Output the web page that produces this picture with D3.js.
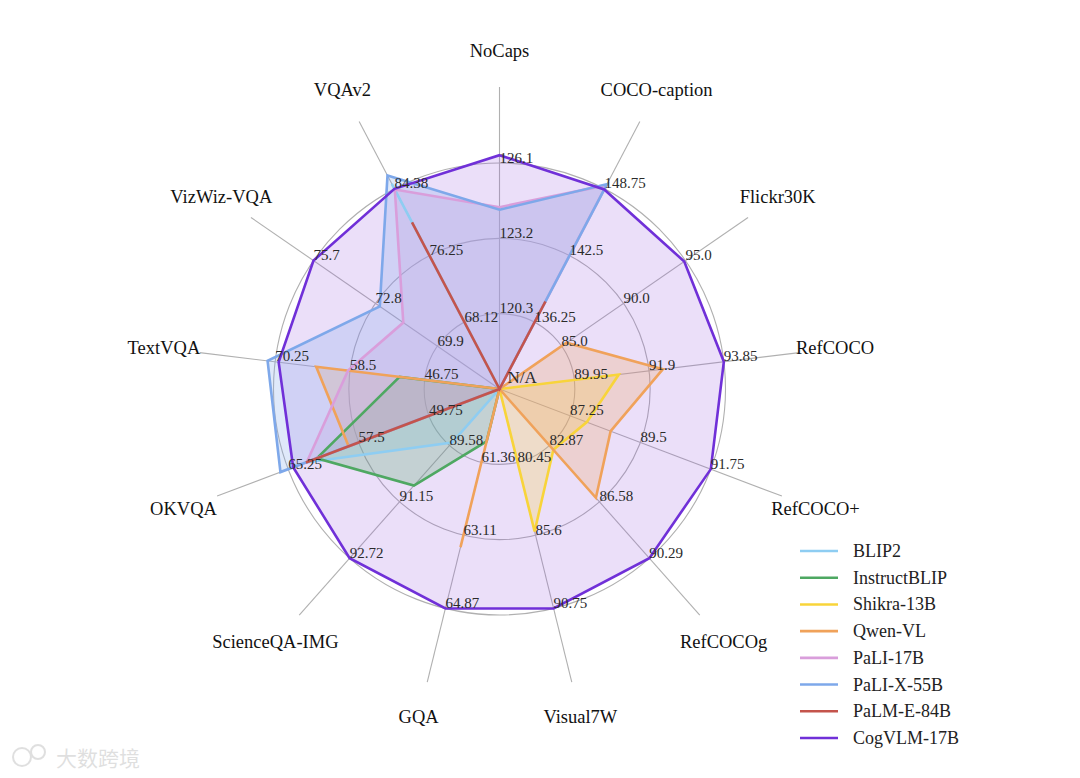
<!DOCTYPE html>
<html>
<head>
<meta charset="utf-8">
<script src="https://cdn.jsdelivr.net/npm/d3@7/dist/d3.min.js"></script>
<style>
  html, body { margin: 0; padding: 0; background: #ffffff; }
  svg { display: block; }
</style>
</head>
<body>
<div id="chart"></div>
<script>
// ---------- data ----------
const axes = ["NoCaps", "COCO-caption", "Flickr30K", "RefCOCO", "RefCOCO+", "RefCOCOg",
  "Visual7W", "GQA", "ScienceQA-IMG", "OKVQA", "TextVQA", "VizWiz-VQA", "VQAv2"];

const tickLabels = [
  ["120.3", "123.2", "126.1"],
  ["136.25", "142.5", "148.75"],
  ["85.0", "90.0", "95.0"],
  ["89.95", "91.9", "93.85"],
  ["87.25", "89.5", "91.75"],
  ["82.87", "86.58", "90.29"],
  ["80.45", "85.6", "90.75"],
  ["61.36", "63.11", "64.87"],
  ["89.58", "91.15", "92.72"],
  ["49.75", "57.5", "65.25"],
  ["46.75", "58.5", "70.25"],
  ["69.9", "72.8", "75.7"],
  ["68.12", "76.25", "84.38"]
];
const centerLabel = "N/A";

const models = ["BLIP2", "InstructBLIP", "Shikra-13B", "Qwen-VL", "PaLI-17B", "PaLI-X-55B", "PaLM-E-84B", "CogVLM-17B"];

// values per axis (null = not available, drawn at centre)
const blip2        = [null, null, null, null, null, null, null, null, 89.5, 63.3, null, null, 85.0];
const instructBlip = [null, null, null, null, null, null, null, 60.86, 90.7, 62.1, 50.7, null, null];
const shikra       = [null, null, null, 91.11, 87.79, 83.16, 85.33, null, null, null, null, null, null];
const qwenVL       = [null, null, 85.4, 92.26, 88.55, 86.32, null, 63.4, null, 58.6, 63.8, null, null];
const pali17       = [124.4, 149.1, null, null, null, null, null, null, null, 63.2, 58.8, 71.5, 84.3];
const paliX55      = [124.3, 149.2, null, null, null, null, null, null, null, 66.1, 71.44, 72.6, 86.0];
const palmE84      = [null, 138.2, null, null, null, null, null, null, null, 63.3, null, null, 80.3];
const cogvlm17     = [126.4, 148.7, 94.9, 93.85, 91.75, 90.29, 90.75, 64.87, 92.72, 64.7, 69.7, 75.7, 84.38];

const seriesValues = [blip2, instructBlip, shikra, qwenVL, pali17, paliX55, palmE84, cogvlm17];
const colors = ["#8ecdf2", "#4ea862", "#f8d43a", "#f0a25a", "#d99edb", "#7ea8ea", "#c4544c", "#7030d8"];

// ---------- layout ----------
const W = 1080, H = 778;
const cx = 499.5, cy = 389, R = 226;
const n = axes.length;
const serif = "'Liberation Serif', 'Times New Roman', Times, serif";

const svg = d3.select("#chart").append("svg").attr("width", W).attr("height", H);

const angle = d3.scaleLinear().domain([0, n]).range([0, 2 * Math.PI]);
const ring = d3.scaleLinear().domain([0, 3]).range([0, R]);

// per-axis radial scales: first tick -> R/3, last tick -> R
const rScales = tickLabels.map(t =>
  d3.scaleLinear().domain([+t[0], +t[2]]).range([ring(1), ring(3)]));

function pt(i, r) {
  const a = angle(i);
  return [cx + r * Math.sin(a), cy - r * Math.cos(a)];
}

const g = svg.append("g");

// grid circles
g.selectAll("circle.grid").data([1, 2, 3]).enter().append("circle")
  .attr("cx", cx).attr("cy", cy).attr("r", d => ring(d))
  .attr("fill", "none").attr("stroke", "#b0b0b0").attr("stroke-width", 1.1);

// spokes
g.selectAll("line.spoke").data(axes).enter().append("line")
  .attr("x1", cx).attr("y1", cy)
  .attr("x2", (d, i) => pt(i, 302)[0]).attr("y2", (d, i) => pt(i, 302)[1])
  .attr("stroke", "#b0b0b0").attr("stroke-width", 1.1);

const line = d3.line().curve(d3.curveLinearClosed);
const polys = seriesValues.map(vals =>
  vals.map((v, i) => pt(i, v == null ? 0 : Math.max(0, rScales[i](v)))));

// fills: CogVLM at the bottom, the others above it
const fillOrder = [7, 0, 1, 2, 3, 4, 5, 6];
fillOrder.forEach(s => {
  g.append("path").attr("d", line(polys[s]))
    .attr("fill", s === 7 ? "#9a5ee0" : colors[s]).attr("fill-opacity", s === 7 ? 0.2 : 0.25)
    .attr("stroke", "none");
});
// outlines on top of all fills
polys.forEach((p, s) => {
  g.append("path").attr("d", line(p))
    .attr("fill", "none")
    .attr("stroke", colors[s]).attr("stroke-width", 2.6)
    .attr("stroke-linejoin", "miter");
});

// tick labels
tickLabels.forEach((ticks, i) => {
  ticks.forEach(t => {
    const p = pt(i, rScales[i](+t));
    g.append("text").attr("x", p[0]).attr("y", p[1] - 0.5)
      .attr("font-family", serif).attr("font-size", 15).attr("fill", "#2a2a2a")
      .text(t);
  });
});
g.append("text").attr("x", cx + 8).attr("y", cy - 6)
  .attr("font-family", serif).attr("font-size", 17).attr("fill", "#2a2a2a")
  .text(centerLabel);

// axis names
g.selectAll("text.axis").data(axes).enter().append("text")
  .attr("x", (d, i) => pt(i, 338)[0]).attr("y", (d, i) => pt(i, 338)[1])
  .attr("text-anchor", "middle").attr("dominant-baseline", "central")
  .attr("font-family", serif).attr("font-size", 18.5).attr("fill", "#111")
  .text(d => d);

// legend
const leg = svg.append("g");
const legY = d3.scaleLinear().domain([0, models.length - 1]).range([551, 738]);
models.forEach((m, i) => {
  leg.append("line").attr("x1", 800).attr("x2", 838)
    .attr("y1", legY(i)).attr("y2", legY(i))
    .attr("stroke", colors[i]).attr("stroke-width", 2.6);
  leg.append("text").attr("x", 853).attr("y", legY(i))
    .attr("dominant-baseline", "central")
    .attr("font-family", serif).attr("font-size", 18).attr("fill", "#222")
    .text(m);
});

// watermark
const wm = svg.append("g").attr("opacity", 0.3);
wm.append("circle").attr("cx", 22).attr("cy", 757).attr("r", 9).attr("fill", "none").attr("stroke", "#999").attr("stroke-width", 2);
wm.append("circle").attr("cx", 38).attr("cy", 752).attr("r", 7).attr("fill", "none").attr("stroke", "#999").attr("stroke-width", 2);
wm.append("text").attr("x", 56).attr("y", 766)
  .attr("font-family", "'Noto Sans CJK SC', sans-serif").attr("font-size", 21).attr("fill", "#999")
  .text("大数跨境");
</script>
</body>
</html>
